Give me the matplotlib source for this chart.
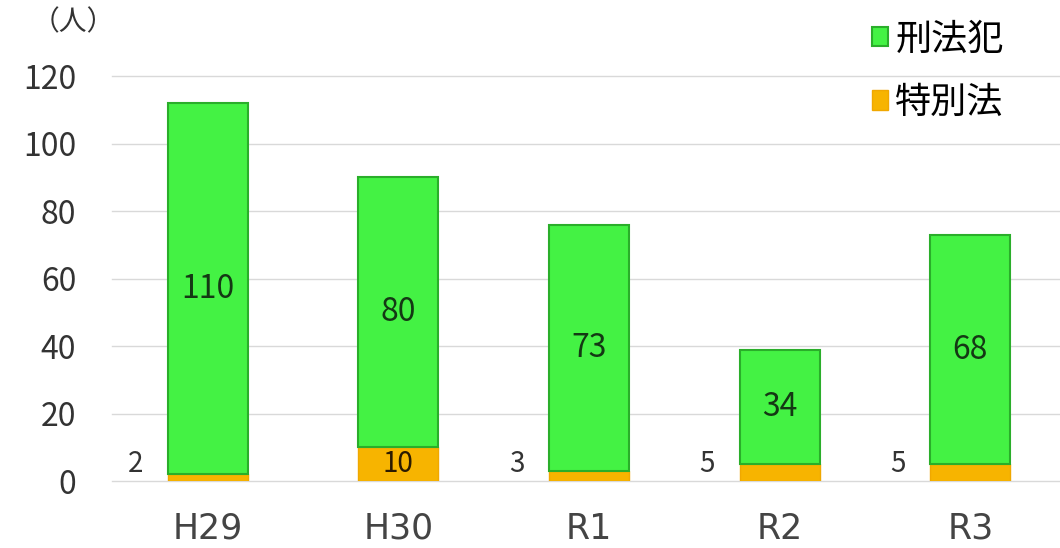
import matplotlib
matplotlib.use("Agg")
import matplotlib.pyplot as plt
import numpy as np

plt.rcParams["font.family"] = ["Noto Sans CJK JP", "DejaVu Sans"]

years = ["H29", "H30", "R1", "R2", "R3"]
keihou = [110, 80, 73, 34, 68]      # 刑法犯
tokubetsu = [2, 10, 3, 5, 5]        # 特別法

GREEN = "#44f244"
GREEN_EDGE = "#2aae2a"
ORANGE = "#f7b400"
ORANGE_EDGE = "#f0a800"

fig = plt.figure(figsize=(10.6, 5.48), dpi=100)
ax = fig.add_axes([0.106, 0.122, 0.894, 0.739])

x = np.arange(len(years))
w = 0.42
ax.bar(x, tokubetsu, w, color=ORANGE, edgecolor=ORANGE_EDGE, linewidth=1.0,
       label="特別法", zorder=3)
ax.bar(x, keihou, w, bottom=tokubetsu, color=GREEN, edgecolor=GREEN_EDGE,
       linewidth=1.5, label="刑法犯", zorder=3)

# value labels
for i in range(len(years)):
    ax.text(x[i], tokubetsu[i] + keihou[i] / 2, str(keihou[i]),
            ha="center", va="center", fontsize=23, color="#143814", zorder=4)
    if tokubetsu[i] >= 10:
        ax.text(x[i], tokubetsu[i] / 2, str(tokubetsu[i]),
                ha="center", va="center", fontsize=20, color="#2a1a00", zorder=4)
    else:
        ax.text(x[i] - 0.38, 5, str(tokubetsu[i]),
                ha="center", va="center", fontsize=20, color="#333333", zorder=4)

ax.set_xlim(-0.5, 4.47)
ax.set_ylim(0, 120)
ax.set_yticks(np.arange(0, 121, 20))
ax.set_xticks(x)
ax.set_xticklabels(years, fontsize=25, color="#444444", family="DejaVu Sans")
ax.tick_params(axis="x", length=0, pad=22)
ax.tick_params(axis="y", length=0, pad=26, labelsize=23, labelcolor="#333333")
ax.grid(axis="y", color="#d9d9d9", linewidth=1.0, zorder=0)
for gl in ax.get_ygridlines():
    gl.set_clip_on(False)
for s in ax.spines.values():
    s.set_visible(False)

fig.text(0.03, 0.96, "（人）", fontsize=20, color="#333333", va="center")

handles, labels = ax.get_legend_handles_labels()
ax.legend(handles[::-1], labels[::-1], loc="upper right",
          bbox_to_anchor=(0.975, 1.215), frameon=False, fontsize=26,
          handlelength=0.45, handleheight=0.45, handletextpad=0.2,
          labelspacing=0.75)

fig.savefig("out.png", dpi=100)
